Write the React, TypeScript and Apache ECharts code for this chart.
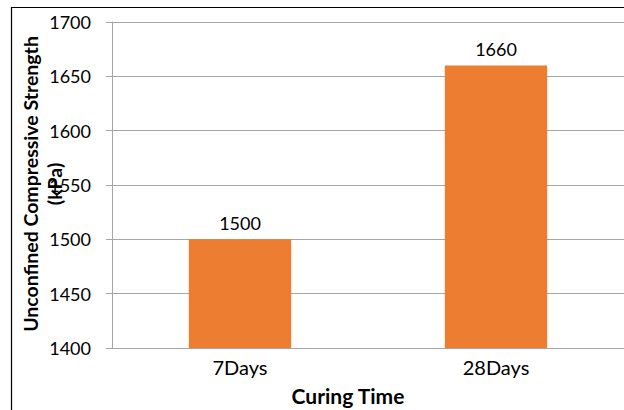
import React, { useEffect, useRef } from "react";
import * as echarts from "echarts";

// Curing-time categories and measured strengths (kPa)
const categories: string[] = ["7Days", "28Days"];
const strengths: number[] = [1500, 1660];

// Value axis range
const yMin = 1400;
const yMax = 1700;
const yStep = 50;

const xTitle = "Curing Time";
const yTitle = "Unconfined Compressive Strength\n(kPa)";

const FONT = "Lato, 'Open Sans', sans-serif";
const GRID_GREY = "#a6a6a6";
const BAR_ORANGE = "#ED7D31";

export default function App() {
  const ref = useRef<HTMLDivElement>(null);

  useEffect(() => {
    if (!ref.current) return;
    const chart = echarts.init(ref.current, undefined, { renderer: "svg" });
    chart.setOption({
      animation: false,
      backgroundColor: "#ffffff",
      grid: { left: 112, right: 0, top: 22, bottom: 62 },
      xAxis: {
        type: "category",
        data: categories,
        axisLine: { show: true, lineStyle: { color: GRID_GREY, width: 1 } },
        axisTick: { show: false },
        axisLabel: {
          color: "#000",
          fontFamily: FONT,
          fontSize: 20,
          margin: 9,
        },
      },
      yAxis: {
        type: "value",
        min: yMin,
        max: yMax,
        interval: yStep,
        axisLine: { show: true, lineStyle: { color: GRID_GREY, width: 1 } },
        axisTick: {
          show: true,
          length: 6,
          lineStyle: { color: GRID_GREY, width: 1 },
        },
        splitLine: { show: true, lineStyle: { color: GRID_GREY, width: 1 } },
        axisLabel: {
          color: "#000",
          fontFamily: FONT,
          fontSize: 18,
          margin: 21,
          formatter: (v: number) => String(v),
        },
      },
      series: [
        {
          type: "bar",
          data: strengths,
          barWidth: "40%",
          itemStyle: { color: BAR_ORANGE },
          label: {
            show: true,
            position: "top",
            distance: 7,
            color: "#000",
            fontFamily: FONT,
            fontSize: 18,
          },
        },
      ],
      graphic: [
        {
          type: "rect",
          shape: { x: 11.5, y: 7.5, width: 800, height: 600 },
          style: { fill: "none", stroke: "#000", lineWidth: 1.2 },
          silent: true,
          z: 10,
        },
        {
          type: "text",
          x: 42,
          y: 184,
          rotation: Math.PI / 2,
          style: {
            text: yTitle,
            fill: "#000",
            font: `bold 19.5px ${FONT}`,
            lineHeight: 24,
            align: "center",
            verticalAlign: "middle",
          },
        },
        {
          type: "text",
          x: 348,
          y: 395,
          style: {
            text: xTitle,
            fill: "#000",
            font: `bold 21px ${FONT}`,
            align: "center",
            verticalAlign: "middle",
          },
        },
      ],
    });
    return () => chart.dispose();
  }, []);

  return (
    <div
      ref={ref}
      style={{ position: "fixed", left: 0, top: 0, width: 624, height: 410 }}
    />
  );
}
